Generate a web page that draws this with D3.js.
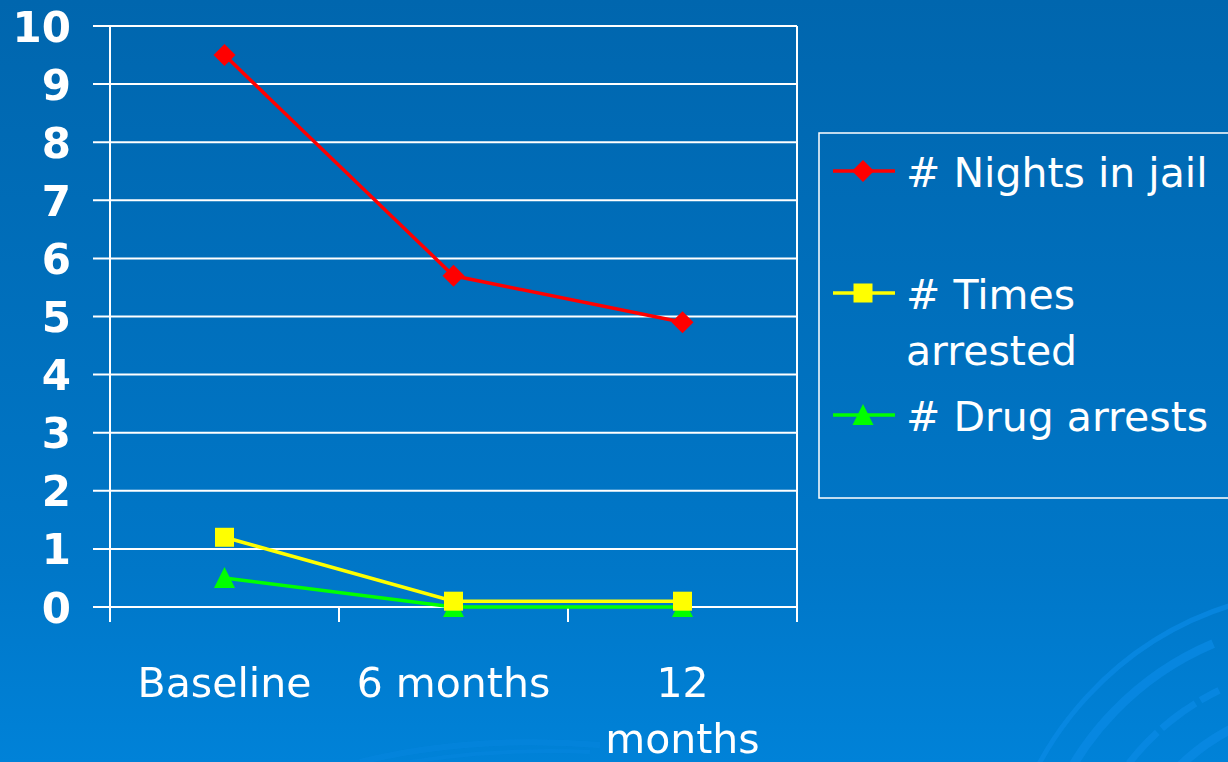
<!DOCTYPE html>
<html>
<head>
<meta charset="utf-8">
<script src="https://cdn.jsdelivr.net/npm/d3@7"></script>
<style>
  html, body { margin: 0; padding: 0; overflow: hidden; background: #0070c0; }
  svg { display: block; }
</style>
</head>
<body>
<script>
// Data
const categories = ["Baseline", "6 months", "12 months"];
const categoryLines = [["Baseline"], ["6 months"], ["12", "months"]];
const nightsInJail = [9.5, 5.7, 4.9];
const timesArrested = [1.2, 0.1, 0.1];
const drugArrests = [0.5, 0, 0];
const yTicks = [0, 1, 2, 3, 4, 5, 6, 7, 8, 9, 10];
const seriesNames = ["# Nights in jail", "# Times arrested", "# Drug arrests"];

const W = 1228, H = 762;
const FONT = "'DejaVu Sans', Tahoma, Verdana, sans-serif";
const svg = d3.select("body").append("svg").attr("width", W).attr("height", H);

// Background gradient
const defs = svg.append("defs");
const grad = defs.append("linearGradient").attr("id", "bg").attr("x1", 0).attr("y1", 0).attr("x2", 0).attr("y2", 1);
grad.append("stop").attr("offset", 0).attr("stop-color", "#0066ae");
grad.append("stop").attr("offset", 0.75).attr("stop-color", "#0077c8");
grad.append("stop").attr("offset", 1).attr("stop-color", "#0082d8");
svg.append("rect").attr("width", W).attr("height", H).attr("fill", "url(#bg)");

// Decorative swirl arcs, lower right and lower middle
const deco = svg.append("g").attr("fill", "none").attr("stroke", "#0a8ae4").attr("opacity", 0.75);
const swirl = [
  { cx: 1330, cy: 920, r: 330, w: 5, a0: -1.35, a1: -0.3, dash: null },
  { cx: 1330, cy: 920, r: 300, w: 9, a0: -1.2, a1: -0.4, dash: null },
  { cx: 1330, cy: 920, r: 255, w: 7, a0: -1.05, a1: -0.45, dash: "30 18" },
  { cx: 1330, cy: 920, r: 215, w: 9, a0: -0.9, a1: -0.45, dash: null },
  { cx: 1330, cy: 920, r: 175, w: 10, a0: -0.8, a1: -0.45, dash: null }
];
swirl.forEach(s => {
  deco.append("path")
    .attr("transform", `translate(${s.cx},${s.cy})`)
    .attr("d", d3.arc()({ innerRadius: s.r, outerRadius: s.r, startAngle: s.a0, endAngle: s.a1 }))
    .attr("stroke-width", s.w)
    .attr("stroke-dasharray", s.dash);
});
deco.append("path")
  .attr("d", "M 360 762 Q 470 735 600 745")
  .attr("stroke-width", 6).attr("opacity", 0.5);
deco.append("path")
  .attr("d", "M 410 762 Q 500 748 590 752")
  .attr("stroke-width", 4).attr("opacity", 0.4);

// Plot geometry
const plot = { left: 110, right: 797, top: 26, bottom: 607 };
const x = d3.scaleBand().domain(categories).range([plot.left, plot.right]).padding(0);
const y = d3.scaleLinear().domain([0, 10]).range([plot.bottom, plot.top]);
const cx = c => x(c) + x.bandwidth() / 2;

const g = svg.append("g");

// Horizontal gridlines with outward ticks
g.append("g").selectAll("line").data(yTicks).join("line")
  .attr("x1", plot.left - 17).attr("x2", plot.right)
  .attr("y1", d => y(d)).attr("y2", d => y(d))
  .attr("stroke", "#ffffff").attr("stroke-width", 2);

// Vertical axis
g.append("line").attr("x1", plot.left).attr("x2", plot.left)
  .attr("y1", plot.top).attr("y2", plot.bottom + 15)
  .attr("stroke", "#fff").attr("stroke-width", 2);

// Category boundary ticks along the bottom, plus right edge
const xEdges = categories.map(c => x(c)).concat([plot.right]);
g.append("g").selectAll("line").data(xEdges.slice(1)).join("line")
  .attr("x1", d => d).attr("x2", d => d)
  .attr("y1", (d, i) => i === xEdges.length - 2 ? plot.top : plot.bottom)
  .attr("y2", plot.bottom + 15)
  .attr("stroke", "#fff").attr("stroke-width", 2);

// Y tick labels
g.append("g").selectAll("text").data(yTicks).join("text")
  .attr("x", 71).attr("y", d => y(d)).attr("dy", "0.37em")
  .attr("text-anchor", "end")
  .attr("font-family", FONT)
  .attr("font-weight", "bold").attr("font-size", 42)
  .attr("fill", "#fff")
  .text(d => d);

// X category labels
const xl = g.append("g")
  .attr("font-family", FONT)
  .attr("font-size", 41).attr("fill", "#fff").attr("text-anchor", "middle");
categories.forEach((c, i) => {
  const t = xl.append("text").attr("x", cx(c)).attr("y", 697);
  categoryLines[i].forEach((ln, j) => {
    t.append("tspan").attr("x", cx(c)).attr("dy", j === 0 ? 0 : 56).text(ln);
  });
});

// Series
const series = [
  { name: seriesNames[0], values: nightsInJail, color: "#ff0000", symbol: "diamond" },
  { name: seriesNames[1], values: timesArrested, color: "#ffff00", symbol: "square" },
  { name: seriesNames[2], values: drugArrests, color: "#00ff00", symbol: "triangle" }
];

function marker(sel, type, color) {
  if (type === "diamond") {
    sel.append("path").attr("d", "M0,-11 L11,0 L0,11 L-11,0 Z").attr("fill", color);
  } else if (type === "square") {
    sel.append("rect").attr("x", -9.5).attr("y", -9.5).attr("width", 19).attr("height", 19).attr("fill", color);
  } else {
    sel.append("path").attr("d", "M0,-11 L10.5,10 L-10.5,10 Z").attr("fill", color);
  }
}

const line = d3.line().x(d => cx(d.c)).y(d => y(d.v));
// Draw bottom series first so the red one sits on top
series.slice().reverse().forEach(s => {
  const pts = categories.map((c, i) => ({ c, v: s.values[i] }));
  g.append("path").datum(pts).attr("d", line)
    .attr("fill", "none").attr("stroke", s.color).attr("stroke-width", 3.5);
});
series.slice().reverse().forEach(s => {
  categories.forEach((c, i) => {
    const m = g.append("g").attr("transform", `translate(${cx(c)},${y(s.values[i])})`);
    marker(m, s.symbol, s.color);
  });
});

// Legend
const lg = svg.append("g");
lg.append("rect").attr("x", 819).attr("y", 133).attr("width", 440).attr("height", 365)
  .attr("fill", "none").attr("stroke", "#fff").attr("stroke-width", 1.5);

const legendRows = [
  { s: series[0], lineY: 171, textLines: ["# Nights in jail"], textY: 187 },
  { s: series[1], lineY: 293, textLines: ["# Times", "arrested"], textY: 309 },
  { s: series[2], lineY: 415, textLines: ["# Drug arrests"], textY: 431 }
];
legendRows.forEach(r => {
  lg.append("line").attr("x1", 833).attr("x2", 895).attr("y1", r.lineY).attr("y2", r.lineY)
    .attr("stroke", r.s.color).attr("stroke-width", 3.5);
  const m = lg.append("g").attr("transform", `translate(863,${r.lineY})`);
  marker(m, r.s.symbol, r.s.color);
  const t = lg.append("text").attr("x", 906).attr("y", r.textY)
    .attr("font-family", FONT)
    .attr("font-size", 41).attr("fill", "#fff");
  r.textLines.forEach((ln, j) => {
    t.append("tspan").attr("x", 906).attr("dy", j === 0 ? 0 : 56).text(ln);
  });
});
</script>
</body>
</html>
